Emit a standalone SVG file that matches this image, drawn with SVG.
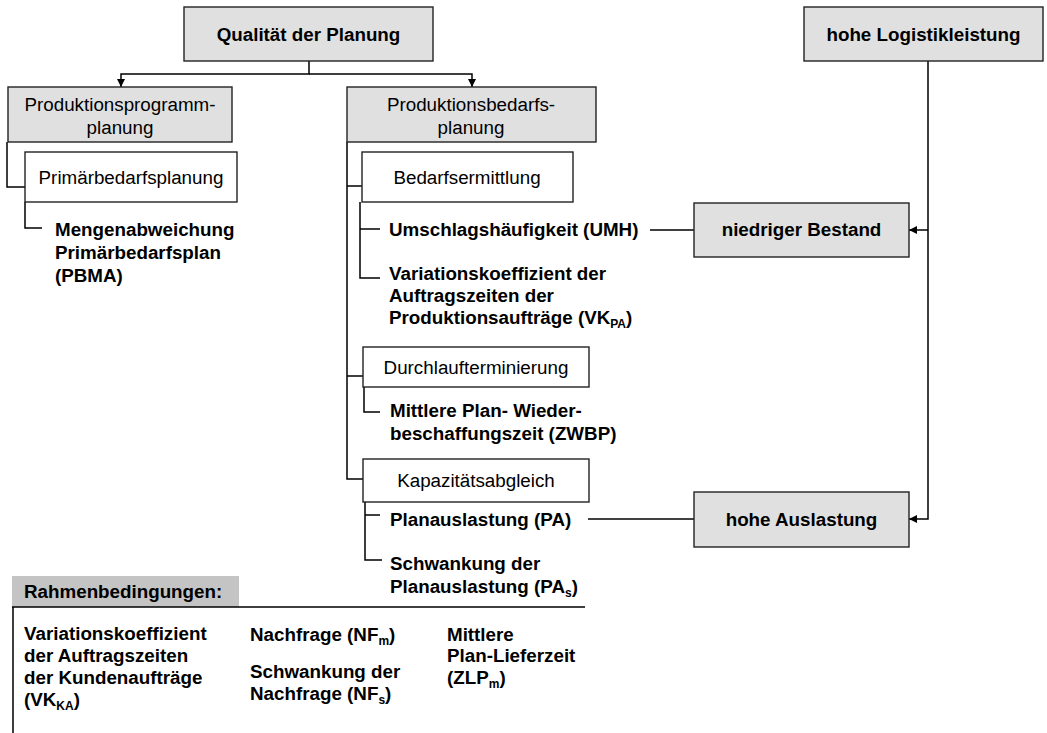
<svg xmlns="http://www.w3.org/2000/svg" width="1047" height="733" viewBox="0 0 1047 733">
  <style>
    text { font-family: "Liberation Sans", Arial, sans-serif; font-size: 18.8px; fill: #000; }
    .b { font-weight: bold; }
    .c { text-anchor: middle; }
    .sub { font-size: 12px; }
    .grey { fill: #e0e0e0; stroke: #222; stroke-width: 1.4; }
    .white { fill: #fff; stroke: #222; stroke-width: 1.4; }
    .line { fill: none; stroke: #000; stroke-width: 1.5; }
  </style>
  <defs>
    <marker id="arrow" viewBox="0 0 10 10" refX="10" refY="5" markerWidth="8" markerHeight="8" markerUnits="userSpaceOnUse" orient="auto">
      <path d="M0,0 L10,5 L0,10 Z" fill="#000"/>
    </marker>
  </defs>
  <rect width="1047" height="733" fill="#fff"/>

  <!-- connectors -->
  <g id="connectors">
    <path class="line" d="M309,61 V74 H121 V87" marker-end="url(#arrow)"/>
    <path class="line" d="M309,74 H472 V87" marker-end="url(#arrow)"/>
    <path class="line" d="M7,142 V187 H25"/>
    <path class="line" d="M25,202 V228 H42"/>
    <path class="line" d="M347,142 V479 H363"/>
    <path class="line" d="M347,186 H362"/>
    <path class="line" d="M347,376 H363"/>
    <path class="line" d="M360,202 V278 H380"/>
    <path class="line" d="M360,229 H380"/>
    <path class="line" d="M364,387 V412 H380"/>
    <path class="line" d="M365,502 V560 H382"/>
    <path class="line" d="M365,515 H380"/>
    <path class="line" d="M650,230 H694"/>
    <path class="line" d="M588,519 H694"/>
    <path class="line" d="M928,61 V519 H909" marker-end="url(#arrow)"/>
    <path class="line" d="M928,230 H909" marker-end="url(#arrow)"/>
  </g>

  <g id="qualitaet">
    <rect class="grey" x="184" y="7" width="249" height="54"/>
    <text class="b c" x="308.5" y="41">Qualität der Planung</text>
  </g>

  <g id="logistikleistung">
    <rect class="grey" x="804" y="7" width="239" height="54"/>
    <text class="b c" x="923.5" y="41">hohe Logistikleistung</text>
  </g>

  <g id="programmplanung">
    <rect class="grey" x="8" y="87" width="224" height="55"/>
    <text class="c" x="120" y="111">Produktionsprogramm-</text>
    <text class="c" x="120" y="134">planung</text>
  </g>

  <g id="primaerbedarfsplanung">
    <rect class="white" x="25" y="152" width="212" height="50"/>
    <text class="c" x="131" y="184">Primärbedarfsplanung</text>
  </g>

  <g id="pbma">
    <text class="b" x="55" y="236">Mengenabweichung</text>
    <text class="b" x="55" y="259">Primärbedarfsplan</text>
    <text class="b" x="55" y="282">(PBMA)</text>
  </g>

  <g id="bedarfsplanung">
    <rect class="grey" x="347" y="87" width="249" height="55"/>
    <text class="c" x="471" y="111">Produktionsbedarfs-</text>
    <text class="c" x="471" y="134">planung</text>
  </g>

  <g id="bedarfsermittlung">
    <rect class="white" x="362" y="152" width="211" height="50"/>
    <text class="c" x="467" y="184">Bedarfsermittlung</text>
  </g>

  <g id="umh">
    <text class="b" x="389" y="236">Umschlagshäufigkeit (UMH)</text>
  </g>

  <g id="vkpa">
    <text class="b" x="389" y="280">Variationskoeffizient der</text>
    <text class="b" x="389" y="302">Auftragszeiten der</text>
    <text class="b" x="389" y="324">Produktionsaufträge (VK<tspan class="sub" dy="4">PA</tspan><tspan dy="-4">)</tspan></text>
  </g>

  <g id="durchlaufterminierung">
    <rect class="white" x="363" y="347" width="226" height="40"/>
    <text class="c" x="476" y="374">Durchlaufterminierung</text>
  </g>

  <g id="zwbp">
    <text class="b" x="390" y="417">Mittlere Plan- Wieder-</text>
    <text class="b" x="390" y="440">beschaffungszeit (ZWBP)</text>
  </g>

  <g id="kapazitaetsabgleich">
    <rect class="white" x="363" y="459" width="226" height="43"/>
    <text class="c" x="476" y="487">Kapazitätsabgleich</text>
  </g>

  <g id="pa">
    <text class="b" x="390" y="526">Planauslastung (PA)</text>
  </g>

  <g id="pas">
    <text class="b" x="390" y="570">Schwankung der</text>
    <text class="b" x="390" y="593">Planauslastung (PA<tspan class="sub" dy="4">s</tspan><tspan dy="-4">)</tspan></text>
  </g>

  <g id="bestand">
    <rect class="grey" x="694" y="203" width="215" height="54"/>
    <text class="b c" x="801.5" y="236">niedriger Bestand</text>
  </g>

  <g id="auslastung">
    <rect class="grey" x="694" y="492" width="215" height="55"/>
    <text class="b c" x="801.5" y="526">hohe Auslastung</text>
  </g>

  <g id="rahmenbedingungen">
    <rect x="12" y="576" width="227" height="31" fill="#c4c4c4"/>
    <path class="line" d="M12,607 H585 M13,607 V733"/>
    <text class="b" x="24" y="598" fill="#222">Rahmenbedingungen:</text>
    <text class="b" x="24" y="640">Variationskoeffizient</text>
    <text class="b" x="24" y="662">der Auftragszeiten</text>
    <text class="b" x="24" y="684">der Kundenaufträge</text>
    <text class="b" x="24" y="706">(VK<tspan class="sub" dy="4">KA</tspan><tspan dy="-4">)</tspan></text>
    <text class="b" x="250" y="641">Nachfrage (NF<tspan class="sub" dy="4">m</tspan><tspan dy="-4">)</tspan></text>
    <text class="b" x="250" y="678">Schwankung der</text>
    <text class="b" x="250" y="700">Nachfrage (NF<tspan class="sub" dy="4">s</tspan><tspan dy="-4">)</tspan></text>
    <text class="b" x="447" y="641">Mittlere</text>
    <text class="b" x="447" y="662">Plan-Lieferzeit</text>
    <text class="b" x="447" y="684">(ZLP<tspan class="sub" dy="4">m</tspan><tspan dy="-4">)</tspan></text>
  </g>
</svg>
